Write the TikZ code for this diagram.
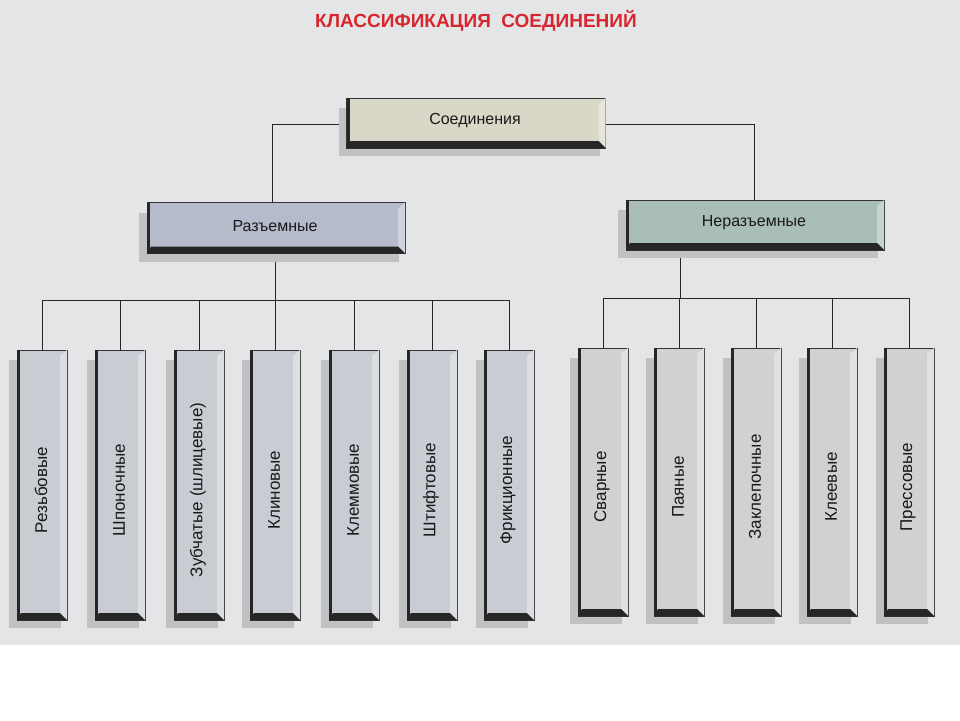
\documentclass[tikz,border=0pt]{standalone}
\usepackage{fontspec}
\setmainfont{Liberation Sans}
\definecolor{bg}{HTML}{E3E5E7}
\definecolor{shad}{HTML}{BFC1C3}
\definecolor{topc}{HTML}{D9D7C7}
\definecolor{razc}{HTML}{B6BBCB}
\definecolor{nerc}{HTML}{A9BDB9}
\definecolor{lc}{HTML}{C9CCD2}
\definecolor{rc}{HTML}{CFD2CF}
\definecolor{titc}{HTML}{D8262E}
\newcommand\bevbox[8]{%
  \fill[shad] (#2-#4/2-8,#3-#5/2+10) rectangle (#2+#4/2-6,#3+#5/2+8);
  \node[draw=black!80,line width=0.6pt,fill=#6,minimum width=#4pt,minimum height=#5pt,inner sep=0pt] (#1) at (#2,#3) {};
  \fill[white!35!#6] (#2+#4/2,#3-#5/2) -- (#2+#4/2-7,#3-#5/2+6) -- (#2+#4/2-7,#3+#5/2-6) -- (#2+#4/2,#3+#5/2) -- cycle;
  \fill[black!85] (#2-#4/2,#3+#5/2) -- (#2-#4/2+4,#3+#5/2-7) -- (#2+#4/2-7,#3+#5/2-7) -- (#2+#4/2,#3+#5/2) -- cycle;
  \fill[black!85] (#2-#4/2,#3-#5/2) rectangle (#2-#4/2+3,#3+#5/2);
  \ifnum#8=90
    \node[font=\fontsize{17}{17}\selectfont,rotate=90,text=black!90] (#1t) at (#2-1,#3+5) {#7};
  \else
    \node[font=\fontsize{16}{16}\selectfont,text=black!90] (#1t) at (#2-1,#3-2) {#7};
  \fi
}
\tikzset{conn/.style={draw=black!85,line width=0.8pt}}
\begin{document}
\begin{tikzpicture}[x=1pt,y=-1pt]
\useasboundingbox (0,0) rectangle (960,720);
\fill[white] (0,0) rectangle (960,720);
\fill[bg] (0,0) rectangle (960,645);
\node[font=\bfseries\fontsize{19}{19}\selectfont,text=titc] (title) at (476,21) {КЛАССИФИКАЦИЯ\ \ СОЕДИНЕНИЙ};
\coordinate (jl) at (275,300);
\coordinate (jr) at (680,298);
\draw[conn] (347,124) -| (272,202);
\draw[conn] (606,124) -| (754,200);
\draw[conn] (275,253) -- (jl);
\draw[conn] (42,350) |- (509,300) -- (509,350);
\foreach \x in {120,199,275,354,432} \draw[conn] (\x,300) -- (\x,350);
\draw[conn] (680,250) -- (jr);
\draw[conn] (603,348) |- (909,298) -- (909,348);
\foreach \x in {679,756,832} \draw[conn] (\x,298) -- (\x,348);
\bevbox{top}{476}{123}{259}{50}{topc}{Соединения}{0}
\bevbox{raz}{276}{228}{258}{51}{razc}{Разъемные}{0}
\bevbox{ner}{755}{225}{258}{50}{nerc}{Неразъемные}{0}
\bevbox{c1}{42}{485}{50}{270}{lc}{Резьбовые}{90}
\bevbox{c2}{120}{485}{50}{270}{lc}{Шпоночные}{90}
\bevbox{c3}{199}{485}{50}{270}{lc}{Зубчатые (шлицевые)}{90}
\bevbox{c4}{275}{485}{50}{270}{lc}{Клиновые}{90}
\bevbox{c5}{354}{485}{50}{270}{lc}{Клеммовые}{90}
\bevbox{c6}{432}{485}{50}{270}{lc}{Штифтовые}{90}
\bevbox{c7}{509}{485}{50}{270}{lc}{Фрикционные}{90}
\bevbox{d1}{603}{482}{50}{268}{rc}{Сварные}{90}
\bevbox{d2}{679}{482}{50}{268}{rc}{Паяные}{90}
\bevbox{d3}{756}{482}{50}{268}{rc}{Заклепочные}{90}
\bevbox{d4}{832}{482}{50}{268}{rc}{Клеевые}{90}
\bevbox{d5}{909}{482}{50}{268}{rc}{Прессовые}{90}
\end{tikzpicture}
\end{document}
